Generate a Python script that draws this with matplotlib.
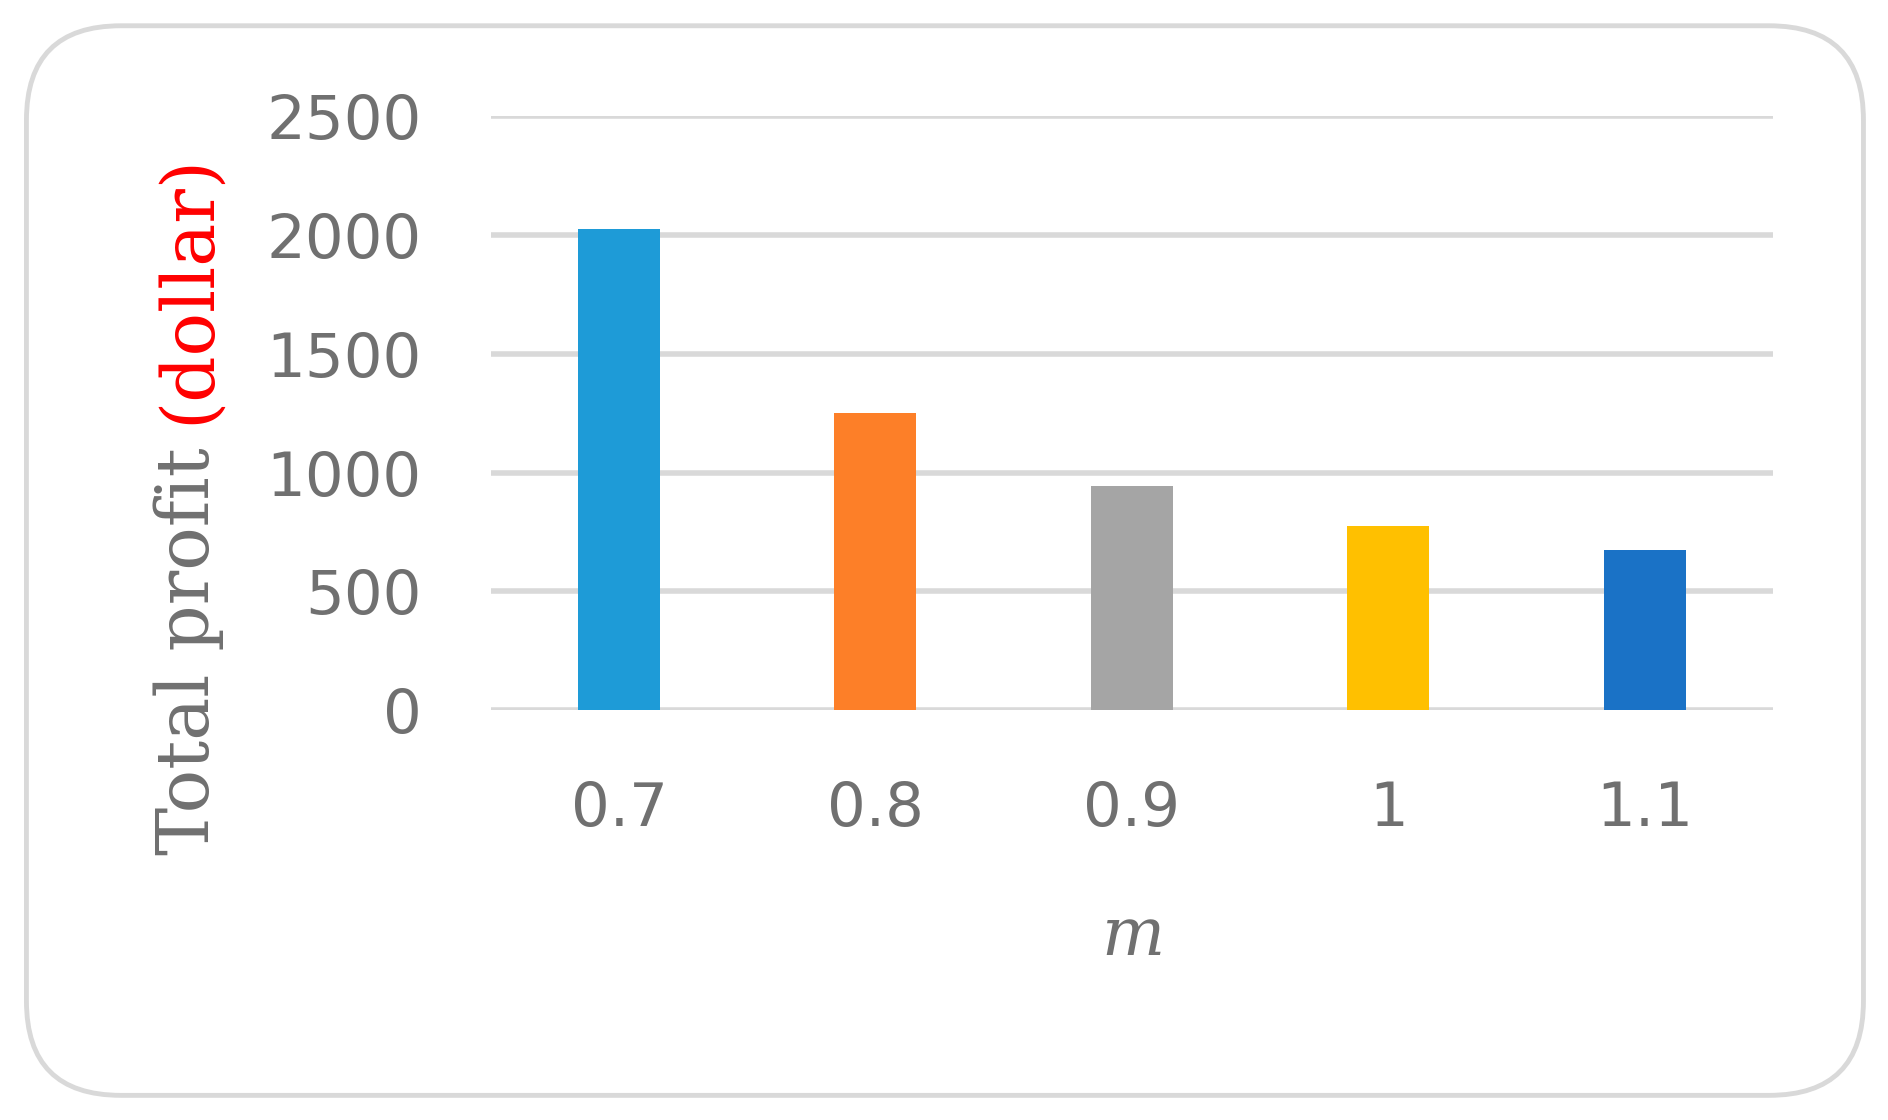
import matplotlib
matplotlib.use("Agg")
import matplotlib.pyplot as plt
from matplotlib.patches import FancyBboxPatch

categories = ["0.7", "0.8", "0.9", "1", "1.1"]
values = [2025, 1252, 943, 776, 675]
colors = ["#1E9BD7", "#FD7F28", "#A5A5A5", "#FFC000", "#1A72C6"]
yticks = [0, 500, 1000, 1500, 2000, 2500]

fig = plt.figure(figsize=(18.88, 11.2), dpi=100)
fig.patch.set_facecolor("white")
box = FancyBboxPatch((0.014, 0.022), 0.973, 0.955, boxstyle="round,pad=0,rounding_size=0.05",
                     transform=fig.transFigure, fill=False, edgecolor="#D9D9D9", linewidth=3.5,
                     mutation_aspect=1888/1120)
fig.patches.append(box)

ax = fig.add_axes([0.26, 0.366, 0.679, 0.53])
x = range(len(categories))
ax.bar(x, values, width=0.32, color=colors, zorder=3, linewidth=0)
ax.set_xlim(-0.5, 4.5)
ax.set_ylim(0, 2500)
ax.set_yticks(yticks)
ax.set_xticks(list(x))
ax.set_xticklabels(categories)
ax.yaxis.grid(True, color="#D9D9D9", linewidth=4, zorder=0)
ax.set_axisbelow(True)
for s in ax.spines.values():
    s.set_visible(False)
ax.tick_params(length=0, labelsize=44, labelcolor="#707070")
ax.tick_params(axis="x", pad=50)
ax.tick_params(axis="y", pad=50)
for t in ax.get_yticklabels() + ax.get_xticklabels():
    t.set_fontfamily("DejaVu Sans")

fig.text(0.6, 0.135, "m", fontsize=48, style="italic", family="DejaVu Serif",
         color="#707070", ha="center", va="bottom")

t1 = fig.text(0.1, 0.237, "Total profit ", rotation=90, fontsize=52, family="DejaVu Serif",
              color="#707070", ha="center", va="bottom")
fig.canvas.draw()
bb = t1.get_window_extent(fig.canvas.get_renderer()).transformed(fig.transFigure.inverted())
fig.text(0.1, bb.y1, "(dollar)", rotation=90, fontsize=52, family="DejaVu Serif",
         color="#FF0000", ha="center", va="bottom")

fig.savefig("out.png", dpi=100)
